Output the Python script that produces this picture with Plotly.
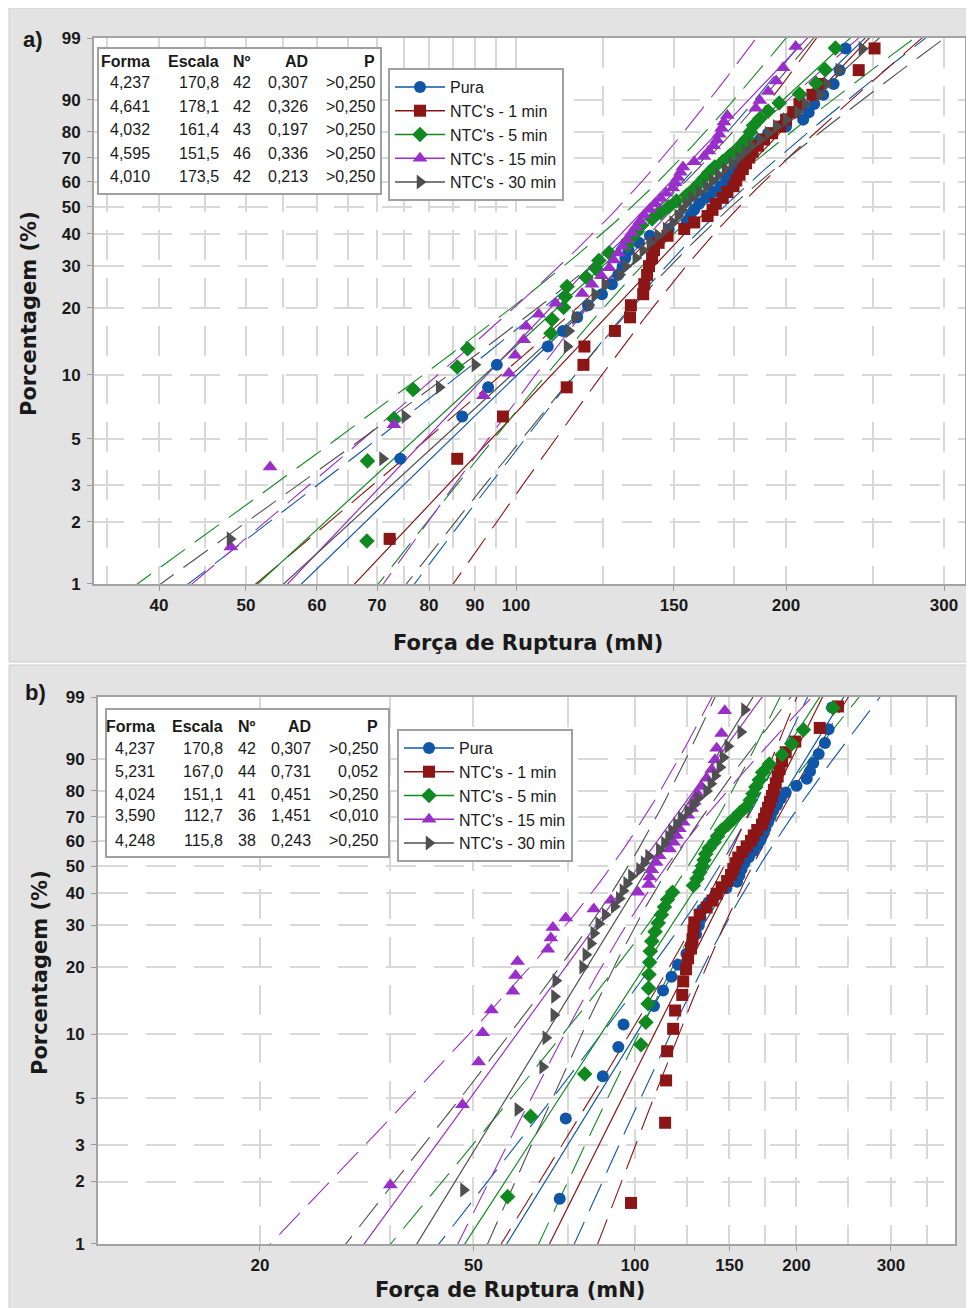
import numpy as np
import plotly.graph_objects as go

# page body has an 8px margin; the figure is sized/offset to compensate
OFF = 8
W, H = 974 - OFF, 1308 - OFF

# ---------------- data ----------------
names = ["Pura", "NTC's - 1 min", "NTC's - 5 min", "NTC's - 15 min", "NTC's - 30 min"]
colors = ["#0f56a8", "#8c1515", "#108a20", "#9a2ec8", "#4f4f4f"]
symbols = ["circle", "square", "diamond", "triangle-up", "triangle-right"]
msizes = [12, 12, 12, 13, 13]

# Força de ruptura (mN) - painel a)
pura = [72.4, 74.3, 87.1, 93.1, 95.2, 108.5, 112.8, 117.0, 120.3, 124.7,
        127.9, 130.0, 131.5, 132.4, 133.5, 137.1, 141.0, 148.0, 155.0, 156.5,
        158.0, 160.0, 163.0, 166.0, 169.0, 171.5, 173.0, 175.0, 177.0, 179.0,
        181.0, 184.0, 187.0, 191.0, 200.0, 209.0, 212.0, 215.0, 220.0, 226.0,
        229.5, 233.0]
a_ntc_1 = [72.3, 86.0, 96.7, 113.9, 118.9, 119.2, 128.9, 134.0, 134.3, 138.6,
           139.0, 140.0, 140.7, 141.8, 142.5, 144.2, 147.5, 154.0, 158.0, 163.5,
           165.6, 167.0, 170.0, 172.0, 174.8, 176.0, 177.5, 179.0, 180.5, 182.0,
           183.6, 186.0, 189.0, 193.0, 197.0, 200.0, 203.7, 207.0, 214.0, 218.0,
           241.0, 251.0]
a_ntc_5 = [68.2, 68.3, 73.1, 76.8, 86.0, 88.3, 109.4, 109.7, 113.0, 113.5,
           114.0, 119.7, 122.8, 123.7, 127.0, 133.0, 134.5, 136.5, 138.0, 141.8,
           145.0, 148.0, 151.0, 155.0, 158.0, 160.0, 162.0, 164.0, 166.5, 170.0,
           173.0, 177.0, 179.0, 181.0, 182.5, 184.0, 187.0, 191.0, 196.5, 207.0,
           216.0, 221.0, 227.0]
a_ntc_15 = [48.1, 53.2, 73.1, 92.0, 98.2, 99.8, 102.0, 102.6, 106.0, 110.7,
            118.5, 121.5, 124.5, 127.0, 128.5, 130.0, 131.5, 133.0, 134.5, 136.0,
            137.5, 139.0, 141.0, 143.0, 145.0, 147.0, 149.5, 150.5, 151.5, 152.5,
            153.5, 158.0, 162.0, 164.0, 166.0, 167.5, 168.5, 169.5, 170.5, 172.0,
            185.0, 187.0, 191.0, 195.0, 198.5, 205.0]
a_ntc_30 = [48.0, 71.0, 75.2, 82.1, 90.0, 114.0, 114.5, 116.5, 120.6, 122.4,
            125.6, 130.5, 132.5, 136.0, 138.5, 141.0, 144.0, 147.0, 149.5, 151.5,
            153.0, 154.7, 157.0, 160.0, 163.0, 165.5, 168.0, 171.0, 174.0, 177.0,
            180.0, 183.0, 187.0, 191.0, 195.0, 200.0, 206.0, 210.0, 218.0, 222.0,
            229.0, 243.0]

# Força de ruptura (mN) - painel b)
b_ntc_1 = [98.3, 113.8, 114.3, 114.8, 117.8, 118.8, 122.5, 123.0, 124.5, 125.6,
           127.2, 128.0, 128.5, 129.0, 132.0, 136.0, 139.5, 142.0, 145.0, 148.5,
           151.0, 152.5, 154.0, 155.8, 158.5, 161.5, 164.5, 166.5, 169.0, 172.5,
           174.0, 175.5, 177.0, 178.5, 180.0, 181.5, 183.0, 184.5, 186.0, 188.0,
           191.0, 199.0, 221.0, 239.0]
b_ntc_5 = [57.9, 63.9, 80.6, 102.6, 104.8, 105.8, 106.0, 106.2, 106.5, 106.8,
           107.5, 109.0, 110.5, 112.0, 113.5, 115.0, 117.5, 128.5, 130.5, 132.0,
           133.5, 134.5, 135.5, 137.5, 140.5, 142.5, 145.0, 149.0, 153.0, 157.0,
           161.5, 164.0, 166.0, 168.0, 170.5, 173.0, 178.0, 188.0, 196.0, 206.0,
           234.0]
b_ntc_15 = [35.0, 47.7, 51.1, 52.0, 54.0, 59.2, 59.9, 60.4, 68.8, 69.7,
            70.3, 74.3, 83.8, 90.2, 101.3, 106.0, 106.5, 107.5, 109.5, 111.0,
            116.0, 118.0, 119.5, 121.0, 123.0, 125.5, 127.5, 129.0, 131.0, 133.0,
            136.0, 139.0, 141.0, 142.0, 145.0, 147.0]
b_ntc_30 = [47.9, 60.5, 67.3, 68.2, 70.6, 70.8, 71.2, 79.9, 81.0, 82.7,
            83.8, 85.6, 88.0, 91.5, 93.5, 95.0, 96.5, 98.5, 102.0, 104.0,
            106.0, 111.0, 113.5, 115.5, 117.0, 119.5, 122.0, 125.5, 128.5, 131.0,
            136.0, 138.5, 141.0, 144.0, 146.0, 149.0, 157.5, 160.0]

# tabelas de parâmetros (Weibull)
shape_a = [4.237, 4.641, 4.032, 4.595, 4.010]
scale_a = [170.8, 178.1, 161.4, 151.5, 173.5]
n_a = [42, 42, 43, 46, 42]
ad_a = [0.307, 0.326, 0.197, 0.336, 0.213]
p_a = [">0,250", ">0,250", ">0,250", ">0,250", ">0,250"]

shape_b = [4.237, 5.231, 4.024, 3.590, 4.248]
scale_b = [170.8, 167.0, 151.1, 112.7, 115.8]
n_b = [42, 44, 41, 36, 38]
ad_b = [0.307, 0.731, 0.451, 1.451, 0.243]
p_b = [">0,250", "0,052", ">0,250", "<0,010", ">0,250"]

y_ticks = [1, 2, 3, 5, 10, 20, 30, 40, 50, 60, 70, 80, 90, 99]
x_ticks_a = [40, 50, 60, 70, 80, 90, 100, 150, 200, 300]
x_grid_a = [35, 45, 55, 65, 75, 85, 95, 125, 175, 250]
x_ticks_b = [20, 50, 100, 150, 200, 300]
x_grid_b = [35, 75, 125, 175, 250, 350]

# ---------------- helpers ----------------
def wb(p):
    p = np.asarray(p, dtype=float)
    return np.log(-np.log(1.0 - p))

def fx(px):
    return (px - OFF) / W

def fy(py):
    return 1.0 - (py - OFF) / H

def fmt(v, d):
    return f"{v:.{d}f}".replace(".", ",")

GRID = "#d8d8d8"
GRIDDASH = "30px,18px"
AXLINE = "#a3a3a3"
TXT = "#1a1a1a"
FONT = "Liberation Sans, Arial, sans-serif"
TITLEFONT = "DejaVu Sans, Verdana, sans-serif"

panels = [
    dict(data=[pura, a_ntc_1, a_ntc_5, a_ntc_15, a_ntc_30], shape=shape_a, scale=scale_a,
         n=n_a, ad=ad_a, p=p_a, xa="x", ya="y", legend="legend"),
    dict(data=[pura, b_ntc_1, b_ntc_5, b_ntc_15, b_ntc_30], shape=shape_b, scale=scale_b,
         n=n_b, ad=ad_b, p=p_b, xa="x2", ya="y2", legend="legend2"),
]

fig = go.Figure()
w_line = np.linspace(wb(0.004), wb(0.996), 90)
Z = 1.96

for P in panels:
    # fitted lines and confidence bounds
    for s in range(5):
        k = P["shape"][s]
        lam = P["scale"][s]
        n = P["n"][s]
        u = np.log(lam)
        b = 1.0 / k
        center = u + w_line * b
        var = b * b / n * (1.1087 + 2 * 0.2570 * w_line + 0.6079 * w_line ** 2) * (6.0 * b)
        hw = Z * np.sqrt(var)
        for sign in (-1, 1):
            fig.add_trace(go.Scatter(
                x=np.exp(center + sign * hw), y=w_line, mode="lines",
                line=dict(color=colors[s], width=1.1, dash="30px,12px"),
                xaxis=P["xa"], yaxis=P["ya"], showlegend=False, hoverinfo="skip"))
        fig.add_trace(go.Scatter(
            x=np.exp(center), y=w_line, mode="lines",
            line=dict(color=colors[s], width=1.2),
            xaxis=P["xa"], yaxis=P["ya"], showlegend=False, hoverinfo="skip"))
    # data points (median ranks)
    for s in range(5):
        vals = np.sort(np.asarray(P["data"][s], dtype=float))
        n = len(vals)
        ranks = np.arange(1, n + 1)
        pr = (ranks - 0.3) / (n + 0.4)
        fig.add_trace(go.Scatter(
            x=vals, y=wb(pr), mode="markers",
            marker=dict(symbol=symbols[s], size=msizes[s], color=colors[s], line=dict(width=0)),
            xaxis=P["xa"], yaxis=P["ya"], showlegend=False, name=names[s]))
    # legend entries
    for s in range(5):
        fig.add_trace(go.Scatter(
            x=[None], y=[None], mode="lines+markers", name=names[s],
            line=dict(color=colors[s], width=1.5),
            marker=dict(symbol=symbols[s], size=msizes[s], color=colors[s], line=dict(width=0)),
            xaxis=P["xa"], yaxis=P["ya"], legend=P["legend"], showlegend=True))

ytv = wb(np.array(y_ticks) / 100.0)
ytt = [str(t) for t in y_ticks]
yrange = [wb(0.01) - 0.002, wb(0.99) + 0.002]

def yaxis(domain, anchor):
    return dict(domain=domain, range=yrange, tickmode="array", tickvals=ytv, ticktext=ytt,
                anchor=anchor,
                showgrid=True, gridcolor=GRID, griddash=GRIDDASH, gridwidth=2,
                ticks="outside", ticklen=5, tickcolor="#9a9a9a", tickwidth=1,
                tickfont=dict(family=FONT, size=17, color=TXT, weight="bold"),
                ticklabelstandoff=3,
                showline=True, linecolor=AXLINE, linewidth=2, mirror=True, zeroline=False)

def xaxis(domain, rng, tv, grid, anchor):
    return dict(domain=domain, type="log", range=rng, tickmode="array", tickvals=tv,
                ticktext=[str(t) for t in tv], anchor=anchor,
                showgrid=True, gridcolor=GRID, griddash=GRIDDASH, gridwidth=2,
                minor=dict(tickmode="array", tickvals=grid, showgrid=True, gridcolor=GRID,
                           griddash=GRIDDASH, gridwidth=2, ticks=""),
                ticks="outside", ticklen=5, tickcolor="#9a9a9a", tickwidth=1,
                tickfont=dict(family=FONT, size=17, color=TXT, weight="bold"),
                showline=True, linecolor=AXLINE, linewidth=2, mirror=True, zeroline=False)

layout_shapes = [
    dict(type="rect", xref="paper", yref="paper", x0=fx(9), x1=1.02, y0=fy(662), y1=fy(8),
         fillcolor="#e3e3e3", line=dict(color="#cdcdcd", width=1), layer="below"),
    dict(type="rect", xref="paper", yref="paper", x0=fx(9), x1=1.02, y0=-0.02, y1=fy(665),
         fillcolor="#e3e3e3", line=dict(color="#cdcdcd", width=1), layer="below"),
    dict(type="rect", xref="x domain", yref="y domain", x0=0, x1=1, y0=0, y1=1,
         fillcolor="white", line=dict(width=0), layer="below"),
    dict(type="rect", xref="x2 domain", yref="y2 domain", x0=0, x1=1, y0=0, y1=1,
         fillcolor="white", line=dict(width=0), layer="below"),
]

annotations = []

# parameter tables
tables = [
    dict(box=(98, 48, 381, 194), cols=[152, 221, 253, 310, 377], hy=62,
         rows=[82, 106, 130, 153, 176], P=panels[0]),
    dict(box=(106, 709, 389, 857), cols=[157, 225, 258, 313, 380], hy=726,
         rows=[748, 771, 794, 816, 840], P=panels[1]),
]
headers = ["Forma", "Escala", "Nº", "AD", "P"]
for T in tables:
    x0, y0, x1, y1 = T["box"]
    layout_shapes.append(dict(type="rect", xref="paper", yref="paper",
                              x0=fx(x0), x1=fx(x1), y0=fy(y1), y1=fy(y0),
                              fillcolor="white", line=dict(color="#a0a0a0", width=2), layer="above"))
    for c, htxt in enumerate(headers):
        annotations.append(dict(x=fx(T["cols"][c]), y=fy(T["hy"]), xref="paper", yref="paper",
                                text=htxt, showarrow=False, xanchor="right", yanchor="middle",
                                font=dict(family=FONT, size=16, color=TXT, weight="bold")))
    P = T["P"]
    for r in range(5):
        cells = [fmt(P["shape"][r], 3), fmt(P["scale"][r], 1), str(P["n"][r]),
                 fmt(P["ad"][r], 3), P["p"][r]]
        for c, ctxt in enumerate(cells):
            annotations.append(dict(x=fx(T["cols"][c]), y=fy(T["rows"][r]), xref="paper", yref="paper",
                                    text=ctxt, showarrow=False, xanchor="right", yanchor="middle",
                                    font=dict(family=FONT, size=16, color=TXT)))

# panel labels and axis titles
for txt, x, y in [("a)", 33, 39), ("b)", 35, 692)]:
    annotations.append(dict(x=fx(x), y=fy(y), xref="paper", yref="paper", text=txt, showarrow=False,
                            xanchor="center", yanchor="middle",
                            font=dict(family=FONT, size=22, color=TXT, weight="bold")))
for x, y in [(528, 643), (510, 1290)]:
    annotations.append(dict(x=fx(x), y=fy(y), xref="paper", yref="paper",
                            text="Força de Ruptura (mN)", showarrow=False,
                            xanchor="center", yanchor="middle",
                            font=dict(family=TITLEFONT, size=21, color=TXT, weight="bold")))
for x, y in [(29, 314), (40, 973)]:
    annotations.append(dict(x=fx(x), y=fy(y), xref="paper", yref="paper",
                            text="Porcentagem (%)", showarrow=False, textangle=-90,
                            xanchor="center", yanchor="middle",
                            font=dict(family=TITLEFONT, size=21, color=TXT, weight="bold")))

legend_common = dict(xanchor="left", yanchor="top", bgcolor="white", bordercolor="#a0a0a0",
                     borderwidth=2, font=dict(family=FONT, size=16, color=TXT),
                     itemsizing="trace", tracegroupgap=0, itemwidth=50)

fig.update_layout(
    width=W, height=H, margin=dict(l=0, r=0, t=0, b=0, pad=0, autoexpand=False),
    paper_bgcolor="white", plot_bgcolor="white",
    xaxis=xaxis([fx(94), fx(965)], [1.5296, 2.5005], x_ticks_a, x_grid_a, "y"),
    yaxis=yaxis([fy(584), fy(38)], "x"),
    xaxis2=xaxis([fx(98), fx(955)], [0.9991, 2.5965], x_ticks_b, x_grid_b, "y2"),
    yaxis2=yaxis([fy(1244), fy(697)], "x2"),
    legend=dict(x=fx(388), y=fy(68), **legend_common),
    legend2=dict(x=fx(397), y=fy(729), **legend_common),
    shapes=layout_shapes,
    annotations=annotations,
    showlegend=True,
)

fig.write_html("out.html")
